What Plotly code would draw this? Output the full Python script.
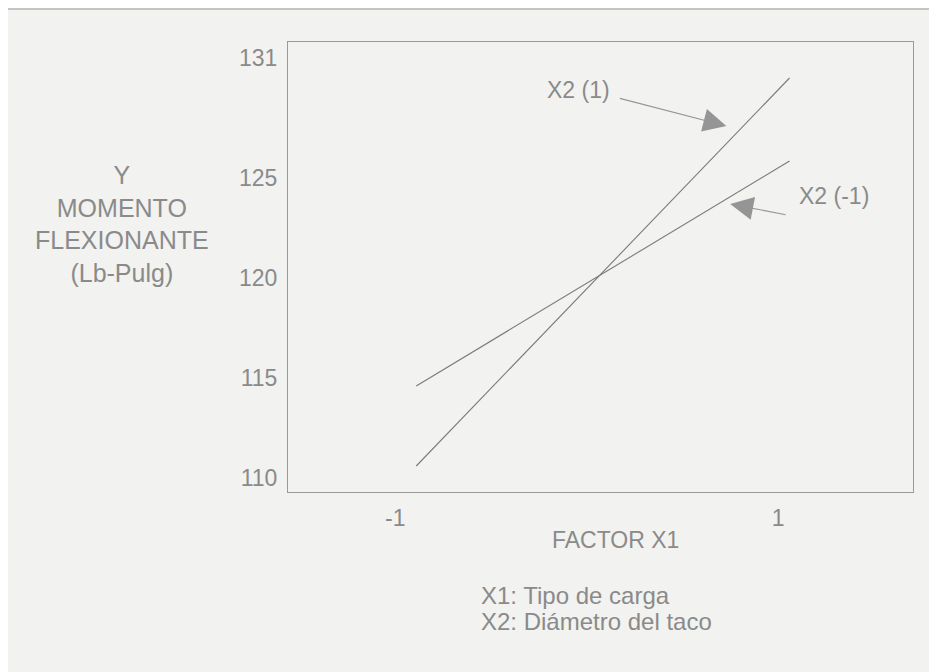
import plotly.graph_objects as go

# ---- data ----
x1_levels = [-0.89, 1.06]            # extent of the drawn lines on FACTOR X1
y_x2_minus = [114.6, 125.85]         # X2 (-1)
y_x2_plus = [110.6, 130.0]           # X2 (1)
x_tick_vals = [-1, 1]
x_tick_text = ["-1", "1"]
y_tick_vals = [110, 115, 120, 125, 131]
y_tick_text = ["110", "115", "120", "125", "131"]
series_names = ["X2 (-1)", "X2 (1)"]
key_lines = ["X1: Tipo de carga", "X2: Diámetro del taco"]

OFF = 8  # default page margin of the html body
W, H = 929, 664
L, R, T, B = 280, 24, 34, 180
PW, PH = W - L - R, H - T - B

def px(xs):
    return (xs - OFF - L) / PW

def py(ys):
    return (H - B - (ys - OFF)) / PH

FONT = "Liberation Sans, Arial, Helvetica, sans-serif"
TXT = "#8a8a8a"
LINE = "#7a7a7a"
BG = "#f2f2f0"
FS = 23

fig = go.Figure()
fig.add_trace(go.Scatter(x=x1_levels, y=y_x2_minus, mode="lines", name=series_names[0],
                         line=dict(color=LINE, width=1.1)))
fig.add_trace(go.Scatter(x=x1_levels, y=y_x2_plus, mode="lines", name=series_names[1],
                         line=dict(color=LINE, width=1.1)))

def text_at(xs, ys, txt, size=FS, xanchor="center", align="center"):
    return dict(x=px(xs), y=py(ys), xref="paper", yref="paper", text=txt,
                showarrow=False, xanchor=xanchor, yanchor="middle", align=align,
                font=dict(size=size, color=TXT, family=FONT))

ann = []
# series labels
ann.append(text_at(578, 90, series_names[1]))
ann.append(text_at(834, 196, series_names[0]))
# arrows
ann.append(dict(x=0.73, y=127.6, xref="x", yref="y", text="", showarrow=True,
                ax=-108, ay=-28, arrowhead=2, arrowsize=4.2, arrowwidth=1.1,
                arrowcolor="#959595", standoff=0, startstandoff=0))
ann.append(dict(x=0.75, y=123.7, xref="x", yref="y", text="", showarrow=True,
                ax=57, ay=11, arrowhead=2, arrowsize=4.2, arrowwidth=1.1,
                arrowcolor="#959595", standoff=0, startstandoff=0))
# y-axis title
ann.append(text_at(122, 224, "Y<br>MOMENTO<br>FLEXIONANTE<br>(Lb-Pulg)", size=25))
# x-axis title
ann.append(text_at(615, 540, "FACTOR X1"))
# key
ann.append(text_at(479, 595, key_lines[0], size=24, xanchor="left", align="left"))
ann.append(text_at(479, 622, key_lines[1], size=24, xanchor="left", align="left"))

fig.update_layout(
    width=W, height=H, autosize=False,
    margin=dict(l=L, r=R, t=T, b=B),
    paper_bgcolor=BG, plot_bgcolor=BG,
    showlegend=False,
    annotations=ann,
    shapes=[dict(type="line", xref="paper", yref="paper", x0=px(0), x1=px(W + 2 * OFF),
                 y0=py(9), y1=py(9), line=dict(color="#b5b5b5", width=1.5))],
    xaxis=dict(range=[-1.56, 1.705], tickvals=x_tick_vals, ticktext=x_tick_text,
               showline=True, mirror=True, linecolor="#9a9a9a", linewidth=1.2,
               showgrid=False, zeroline=False, ticks="", ticklabelstandoff=5,
               tickfont=dict(size=FS, color=TXT, family=FONT)),
    yaxis=dict(range=[109.3, 131.8], tickvals=y_tick_vals, ticktext=y_tick_text,
               showline=True, mirror=True, linecolor="#9a9a9a", linewidth=1.2,
               showgrid=False, zeroline=False, ticks="", ticklabelstandoff=5,
               tickfont=dict(size=FS, color=TXT, family=FONT)),
)

fig.write_html("out.html")
